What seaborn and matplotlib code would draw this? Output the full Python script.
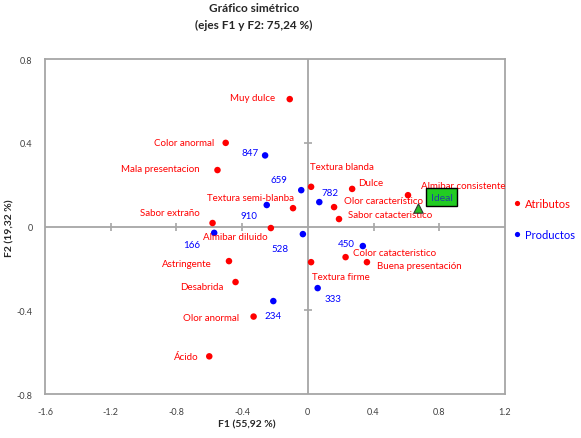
import numpy as np
import pandas as pd
import matplotlib
matplotlib.use("Agg")
import matplotlib.pyplot as plt
import seaborn as sns

sns.set_style("white")
plt.rcParams['font.family'] = ['Lato', 'DejaVu Sans']

# attribute coordinates (F1, F2)
attr_names = ["Muy dulce", "Color anormal", "Mala presentacion", "Sabor extraño",
              "Textura semi-blanba", "Textura blanda", "Dulce", "Olor característico",
              "Sabor catacteristico", "Almibar consistente", "Almibar diluido",
              "Astringente", "Desabrida", "Olor anormal", "Ácido", "Textura firme",
              "Color catacteristico", "Buena presentación"]
attr_f1 = [-0.11, -0.50, -0.55, -0.58, -0.09, 0.02, 0.27, 0.16, 0.19, 0.61, -0.225,
           -0.48, -0.44, -0.33, -0.60, 0.02, 0.23, 0.36]
attr_f2 = [0.609, 0.40, 0.27, 0.017, 0.088, 0.19, 0.18, 0.093, 0.036, 0.15, -0.007,
           -0.165, -0.265, -0.43, -0.62, -0.17, -0.146, -0.17]

# product coordinates
prod_names = ["847", "659", "782", "910", "166", "528", "450", "333", "234"]
prod_f1 = [-0.26, -0.04, 0.07, -0.25, -0.57, -0.03, 0.335, 0.06, -0.21]
prod_f2 = [0.34, 0.174, 0.117, 0.103, -0.03, -0.036, -0.093, -0.294, -0.356]

ideal_f1 = [0.67]
ideal_f2 = [0.088]

xticks = [-1.6, -1.2, -0.8, -0.4, 0, 0.4, 0.8, 1.2]
xticklabels = ["-1.6", "-1.2", "-0.8", "-0.4", "0", "0.4", "0.8", "1.2"]
yticks = [-0.8, -0.4, 0, 0.4, 0.8]
yticklabels = ["-0.8", "-0.4", "0", "0.4", "0.8"]

# label placement (pixel offsets, alignment)
attr_off = [(-15, 2, 'right'), (-11, 0, 'right'), (-18, 2, 'right'), (-13, 11, 'right'),
            (1, 11, 'right'), (-1, 20, 'left'), (6, 6, 'left'), (10, 7, 'left'),
            (9, 5, 'left'), (13, 10, 'left'), (-3, -8, 'right'), (-17, -2, 'right'),
            (-12, -4, 'right'), (-14, -1, 'right'), (-11, 0, 'right'), (1, -14, 'left'),
            (7, 5, 'left'), (10, -3, 'left')]
prod_off = [(-6, 3, 'right'), (-14, 11, 'right'), (2, 10, 'left'), (-9, -10, 'right'),
            (-14, -12, 'right'), (-14, -14, 'right'), (-8, 3, 'right'), (7, -10, 'left'),
            (-9, -14, 'left')]

red = "#ff0000"
blue = "#0000ff"
grid_c = "#a6a6a6"

df = pd.concat([
    pd.DataFrame({"F1": attr_f1, "F2": attr_f2, "tipo": "Atributos"}),
    pd.DataFrame({"F1": prod_f1, "F2": prod_f2, "tipo": "Productos"}),
])

fig = plt.figure(figsize=(5.81, 4.39), dpi=100)
ax = fig.add_axes([0.0775, 0.1002, 0.7915, 0.7628])

ax.axhline(0, color=grid_c, lw=1.3, zorder=1)
ax.axvline(0, color=grid_c, lw=1.3, zorder=1)
# small crossing ticks on the zero lines
ax.plot([t for t in xticks if t not in (0, -1.6, 1.2)], [0] * 5, ls='none', marker='|',
        ms=6, mew=1.2, color=grid_c, zorder=1)
ax.plot([0, 0], [t for t in yticks if t in (-0.4, 0.4)], ls='none', marker='_',
        ms=6, mew=1.2, color=grid_c, zorder=1)

sns.scatterplot(data=df, x="F1", y="F2", hue="tipo", palette={"Atributos": red, "Productos": blue},
                s=22, edgecolor='none', ax=ax, zorder=3)

for n, x, y, (dx, dy, ha) in zip(attr_names, attr_f1, attr_f2, attr_off):
    ax.annotate(n, (x, y), xytext=(dx, dy), textcoords='offset pixels', ha=ha, va='center',
                color=red, fontsize=7)
for n, x, y, (dx, dy, ha) in zip(prod_names, prod_f1, prod_f2, prod_off):
    ax.annotate(n, (x, y), xytext=(dx, dy), textcoords='offset pixels', ha=ha, va='center',
                color=blue, fontsize=7)

ax.scatter(ideal_f1, ideal_f2, marker='^', s=45, color="#22bb22", edgecolor="#333333",
           lw=0.8, zorder=4)
ax.annotate("Ideal", (ideal_f1[0], ideal_f2[0]), xytext=(24, 11), textcoords='offset pixels',
            ha='center', va='center', fontsize=7.5, color="#1f3fa0",
            bbox=dict(boxstyle='square,pad=0.45', fc="#22cc22", ec='black', lw=1))

ax.set_xlim(-1.6, 1.2)
ax.set_ylim(-0.8, 0.8)
ax.set_xticks(xticks)
ax.set_xticklabels(xticklabels)
ax.set_yticks(yticks)
ax.set_yticklabels(yticklabels)
ax.tick_params(length=0, labelsize=6.5, labelcolor="#404040", pad=9)
for s in ax.spines.values():
    s.set_color(grid_c)
    s.set_linewidth(1.3)
ax.set_xlabel("")
ax.set_ylabel("")

fig.text(247 / 581, 1 - 425 / 439, "F1 (55,92 %)", ha='center', va='center',
         fontsize=7.5, fontweight='bold')
fig.text(10 / 581, 1 - 228 / 439, "F2 (19,32 %)", ha='center', va='center', rotation=90,
         fontsize=7.5, fontweight='bold')
fig.text(254 / 581, 1 - 9 / 439, "Gráfico simétrico", ha='center', va='center',
         fontsize=8.5, fontweight='bold')
fig.text(254 / 581, 1 - 25 / 439, "(ejes F1 y F2: 75,24 %)", ha='center', va='center',
         fontsize=8.5, fontweight='bold')

leg = ax.legend(loc='center left', bbox_to_anchor=(1.0174, 0.523), frameon=False,
                handlelength=0.7, handletextpad=0.35, labelspacing=1.75, fontsize=8,
                markerscale=0.8, borderaxespad=0, borderpad=0)
for txt, c in zip(leg.get_texts(), [red, blue]):
    txt.set_color(c)

fig.savefig("out.png", dpi=100)
